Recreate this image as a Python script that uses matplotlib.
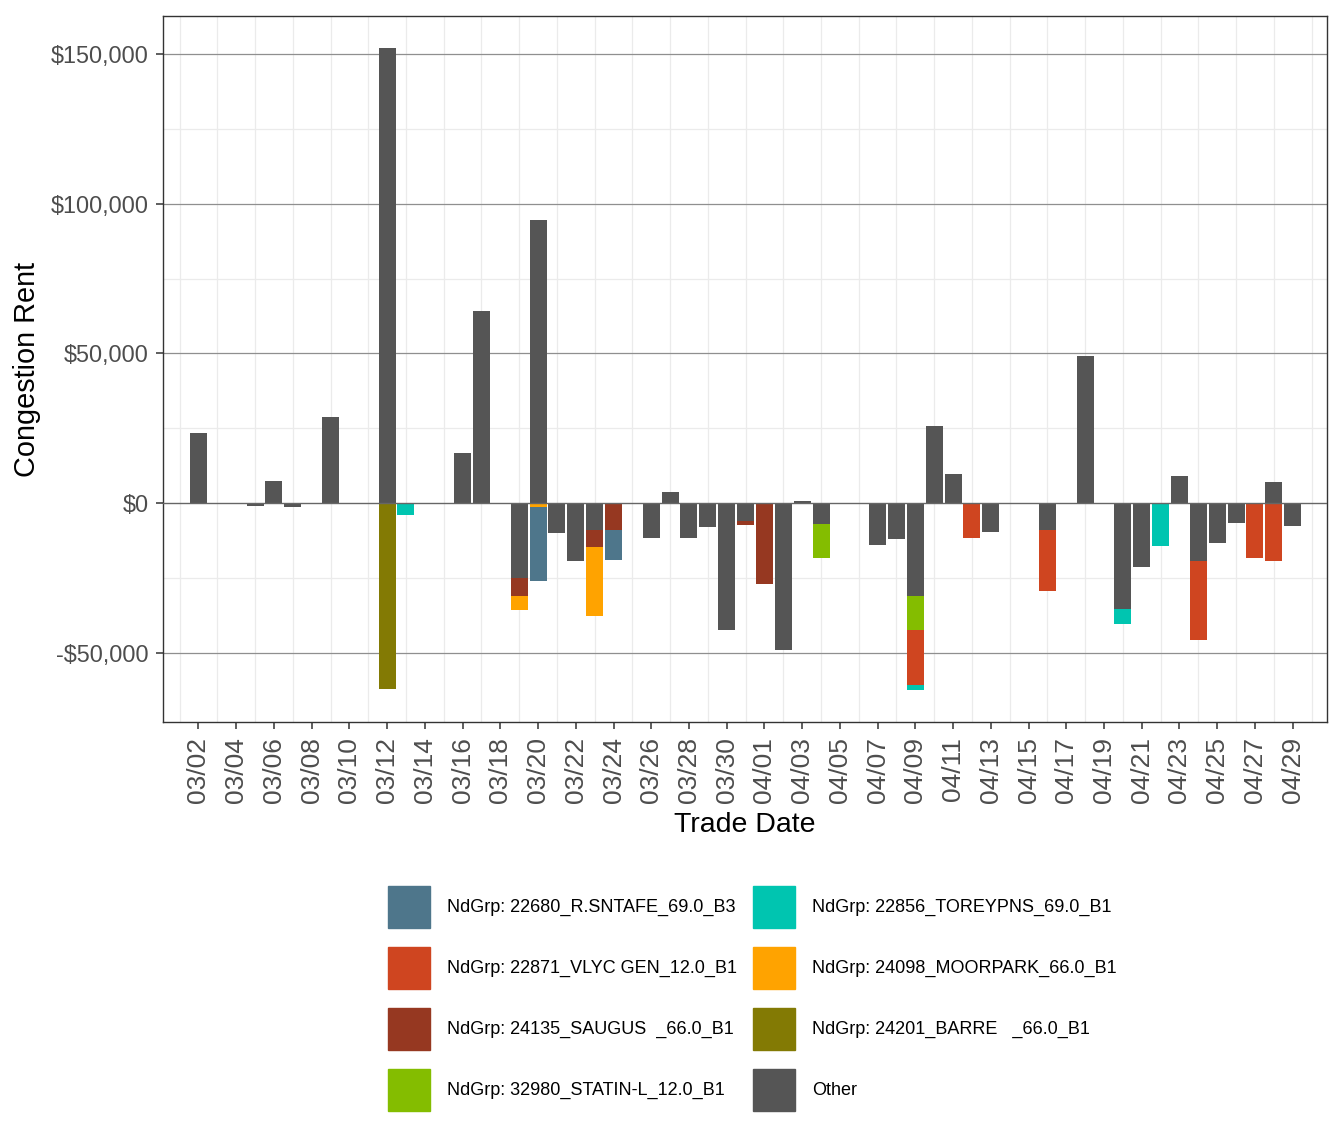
import pandas as pd
import matplotlib
matplotlib.use('Agg')
import matplotlib.pyplot as plt
from matplotlib.patches import Patch
from matplotlib.ticker import FuncFormatter

plt.rcParams['font.family'] = ['Liberation Sans', 'DejaVu Sans']

# trade dates that have a bar (month/day)
dates = ['03/02', '03/05', '03/06', '03/07', '03/09', '03/12', '03/13', '03/16',
         '03/17', '03/19', '03/20', '03/21', '03/22', '03/23', '03/24', '03/26',
         '03/27', '03/28', '03/29', '03/30', '03/31', '04/01', '04/02', '04/03',
         '04/04', '04/07', '04/08', '04/09', '04/10', '04/11', '04/12', '04/13',
         '04/16', '04/18', '04/20', '04/21', '04/22', '04/23', '04/24', '04/25',
         '04/26', '04/27', '04/28', '04/29']

# congestion rent per node group, aligned with dates
other = [23300, -800, 7400, -1450, 28600, 152000, 0, 16700,
         64300, -24950, 94500, -9850, -19200, -8850, 0, -11550,
         3750, -11550, -7900, -42450, -5900, 0, -49100, 750,
         -6900, -13850, -11850, -31150, 25700, 9750, 0, -9550,
         -8850, 49000, -35500, -21200, 0, 9100, -19200, -13200,
         -6550, 0, 7100, -7550]
statin = [0] * 24 + [-11600, 0, 0, -11300] + [0] * 16
barre = [0] * 5 + [-62100] + [0] * 38
saugus = [0] * 9 + [-6200, 0, 0, 0, -5650, -8850] + [0] * 5 + [-1300, -27150] + [0] * 22
moorpark = [0] * 9 + [-4650, -1400, 0, 0, -23300] + [0] * 30
vlyc = ([0] * 27 + [-18300, 0, 0, -11550, 0, -20650] + [0] * 5
        + [-26600, 0, 0, -18200, -19500, 0])
toreypns = ([0] * 6 + [-3900] + [0] * 20 + [-1650] + [0] * 6 + [-5000, 0, -14200]
            + [0] * 7)
rsntafe = [0] * 10 + [-24700, 0, 0, 0, -10000] + [0] * 29

# stacking order, nearest to zero first
series = [
    ('Other', other, '#555555'),
    ('NdGrp: 32980_STATIN-L_12.0_B1', statin, '#84bd00'),
    ('NdGrp: 24201_BARRE   _66.0_B1', barre, '#837a04'),
    ('NdGrp: 24135_SAUGUS  _66.0_B1', saugus, '#963821'),
    ('NdGrp: 24098_MOORPARK_66.0_B1', moorpark, '#ffa300'),
    ('NdGrp: 22871_VLYC GEN_12.0_B1', vlyc, '#cf4520'),
    ('NdGrp: 22856_TOREYPNS_69.0_B1', toreypns, '#00c5b0'),
    ('NdGrp: 22680_R.SNTAFE_69.0_B3', rsntafe, '#4e768b'),
]


def main():
    x = pd.to_datetime(['2021/' + d for d in dates])

    fig = plt.figure(figsize=(13.44, 11.42), dpi=100)
    ax = fig.add_axes([163 / 1344, 1 - 722 / 1142, 1164 / 1344, 706 / 1142])

    pos = [0.0] * len(dates)
    neg = [0.0] * len(dates)
    for name, vals, col in series:
        bottoms = []
        for i, v in enumerate(vals):
            if v >= 0:
                bottoms.append(pos[i])
                pos[i] += v
            else:
                bottoms.append(neg[i])
                neg[i] += v
        ax.bar(x, vals, bottom=bottoms, width=0.9, color=col, zorder=3)

    lo, hi = min(neg), max(pos)
    pad = 0.05 * (hi - lo)
    ax.set_ylim(lo - pad, hi + pad)
    ax.set_xlim(pd.Timestamp('2021-03-02') - pd.Timedelta(days=1.88),
                pd.Timestamp('2021-03-02') + pd.Timedelta(days=59.82))

    # grid
    for t in [-25000, 25000, 75000, 125000]:
        ax.axhline(t, color='#ebebeb', lw=0.9, zorder=1)
    for t in pd.date_range('2021-03-01', '2021-04-30', freq='2D'):
        ax.axvline(t, color='#ebebeb', lw=0.9, zorder=1)
    for t in [-50000, 50000, 100000, 150000]:
        ax.axhline(t, color='#8f8f8f', lw=0.9, zorder=2)
    ax.axhline(0, color='#666666', lw=1.0, zorder=4)

    ax.set_yticks([-50000, 0, 50000, 100000, 150000])
    ax.yaxis.set_major_formatter(FuncFormatter(
        lambda v, p: ('-$' if v < 0 else '$') + f'{abs(v):,.0f}'))
    ticks = pd.date_range('2021-03-02', '2021-04-29', freq='2D')
    ax.set_xticks(ticks)
    ax.set_xticklabels([t.strftime('%m/%d') for t in ticks], rotation=90)

    ax.tick_params(axis='y', labelsize=16.8, labelcolor='#4d4d4d', length=5,
                   width=1.1, color='#333333', pad=5.5)
    ax.tick_params(axis='x', labelsize=19, labelcolor='#4d4d4d', length=5,
                   width=1.1, color='#333333', pad=6)
    for s in ax.spines.values():
        s.set_color('#333333')
        s.set_linewidth(1.0)

    ax.set_xlabel('Trade Date', fontsize=20.5, labelpad=6.5)
    ax.set_ylabel('Congestion Rent', fontsize=20.8, labelpad=7)

    order = [7, 5, 3, 1, 6, 4, 2, 0]
    handles = [Patch(color=series[i][2]) for i in order]
    labels = [series[i][0] for i in order]
    fig.legend(handles, labels, ncol=2, loc='upper left',
               bbox_to_anchor=(388 / 1344, 1 - 886 / 1142), frameon=False,
               fontsize=13, handlelength=2.33, handleheight=3.2,
               handletextpad=0.94, columnspacing=0.9, labelspacing=1.05,
               borderaxespad=0, borderpad=0)

    fig.savefig('out.png', dpi=100)


if __name__ == '__main__':
    main()
